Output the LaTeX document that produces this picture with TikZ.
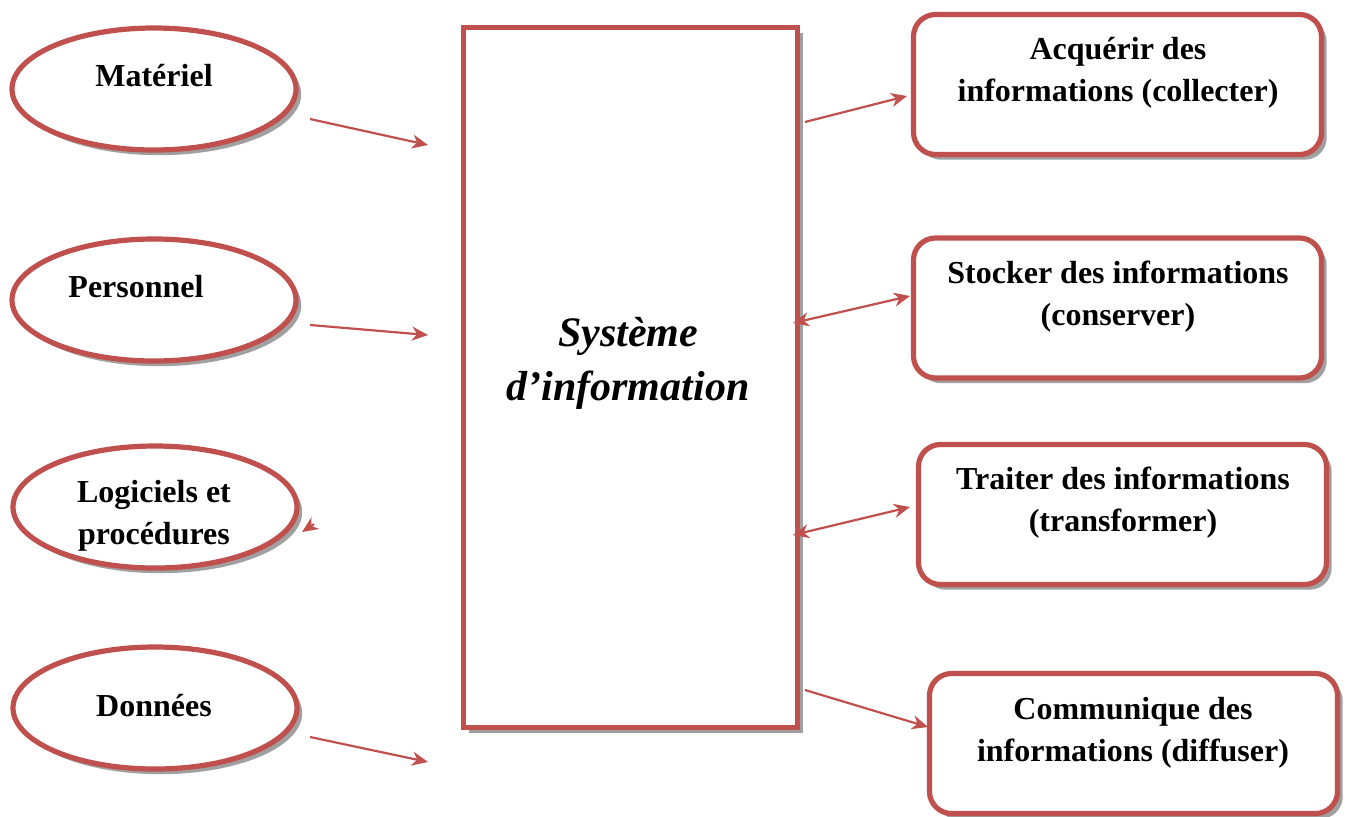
\documentclass[tikz,border=0pt]{standalone}
\usepackage{fontspec}
\setmainfont{Liberation Serif}
\usetikzlibrary{shapes.geometric,shadows,arrows.meta}
\definecolor{brick}{RGB}{192,80,77}
\definecolor{shade}{RGB}{160,160,160}
\tikzset{
  boxshadow/.style={drop shadow={shadow xshift=2.6pt,shadow yshift=-2.6pt,fill=shade,opacity=1}},
  oval/.style={ellipse,draw=brick,line width=2.6pt,fill=white,inner sep=0pt,
    minimum width=142pt,minimum height=61pt,boxshadow},
  task/.style={rectangle,rounded corners=11pt,draw=brick,line width=2.6pt,fill=white,
    inner sep=0pt,minimum width=204pt,minimum height=70pt,boxshadow},
  core/.style={rectangle,draw=brick,line width=2.6pt,fill=white,inner sep=0pt,
    minimum width=167pt,minimum height=350pt,boxshadow},
  lbl/.style={font=\fontsize{16pt}{21pt}\selectfont\bfseries,align=center,inner sep=0pt},
  tip/.style={Stealth[length=8pt,width=7pt,inset=2.5pt]},
  link/.style={draw=brick,line width=1.1pt,-{Stealth[length=8pt,width=7pt,inset=2.5pt]}},
  twoway/.style={draw=brick,line width=1.1pt,{Stealth[length=8pt,width=7pt,inset=2.5pt]}-{Stealth[length=8pt,width=7pt,inset=2.5pt]}}
}
\begin{document}
\begin{tikzpicture}[x=0.5pt,y=-0.5pt]
\useasboundingbox (0,0) rectangle (1346,816);

% resources (left)
\node[oval] (mat) at (154,89) {};
\node[oval] (per) at (154,300) {};
\node[oval] (log) at (155,507) {};
\node[oval] (don) at (155,708) {};
\node[lbl] (tmat) at (154,76) {Matériel};
\node[lbl] (tper) at (136,287) {Personnel};
\node[lbl] (tlog) at (154,516) {Logiciels et\\procédures};
\node[lbl] (tdon) at (154,706) {Données};

% central system
\node[core] (si) at (630.5,377.5) {};
\node[font=\fontsize{21pt}{27pt}\selectfont\bfseries\itshape,align=center,inner sep=0pt] (tsi) at (628,363) {Système\\d’information};

% functions (right)
\node[task] (acq) at (1117.5,84.5) {};
\node[task] (sto) at (1117.5,308) {};
\node[task] (tra) at (1122.5,514.5) {};
\node[task] (com) at (1133.5,743.5) {};
\node[lbl] (tacq) at (1118,73) {Acquérir des\\informations (collecter)};
\node[lbl] (tsto) at (1118,297) {Stocker des informations\\(conserver)};
\node[lbl] (ttra) at (1123,503) {Traiter des informations\\(transformer)};
\node[lbl] (tcom) at (1133,733) {Communique des\\informations (diffuser)};

% connector end points
\coordinate (a1) at (310,119);  \coordinate (b1) at (428,145);
\coordinate (a2) at (310,325);  \coordinate (b2) at (428,335);
\coordinate (a3) at (314,524);  \coordinate (b3) at (302,532);
\coordinate (a4) at (310,737);  \coordinate (b4) at (428,762);
\coordinate (c1) at (805,122);  \coordinate (d1) at (907,96);
\coordinate (c2) at (793,323);  \coordinate (d2) at (910,296);
\coordinate (c3) at (793,535);  \coordinate (d3) at (910,507);
\coordinate (c4) at (805,690);  \coordinate (d4) at (928,727);

\draw[link] (a1) -- (b1);
\draw[link] (a2) -- (b2);
\draw[link] (a3) -- (b3);
\draw[link] (a4) -- (b4);
\draw[link] (c1) -- (d1);
\draw[twoway] (c2) -- (d2);
\draw[twoway] (c3) -- (d3);
\draw[link] (c4) -- (d4);
\end{tikzpicture}
\end{document}
